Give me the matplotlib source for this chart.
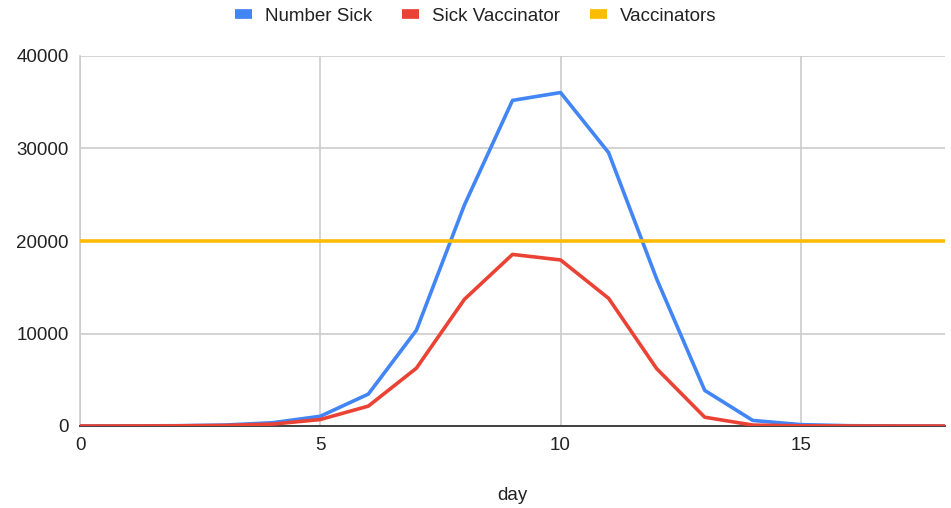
import matplotlib.pyplot as plt
from matplotlib.lines import Line2D

plt.rcParams['font.family'] = ['Liberation Sans', 'DejaVu Sans']

days = list(range(19))
number_sick = [0, 10, 30, 100, 350, 1050, 3450, 10350, 23900, 35200, 36050,
               29550, 15900, 3850, 600, 150, 30, 5, 0]
sick_vaccinator = [0, 5, 15, 60, 200, 700, 2150, 6250, 13700, 18550, 17950,
                   13800, 6200, 950, 100, 20, 5, 0, 0]
vaccinators = [20000] * 19

fig = plt.figure(figsize=(9.51, 5.08), dpi=100)
ax = fig.add_axes([80 / 951, 82 / 508, 865 / 951, 370 / 508])

ax.plot(days, number_sick, color='#4285F4', lw=2.6, label='Number Sick', zorder=3)
ax.plot(days, sick_vaccinator, color='#EA4335', lw=2.6, label='Sick Vaccinator', zorder=3)
ax.plot(days, vaccinators, color='#FBBC04', lw=2.6, label='Vaccinators', zorder=3)

ax.set_xlim(0, 18)
ax.set_ylim(0, 40000)
ax.set_xticks([0, 5, 10, 15])
ax.set_yticks([0, 10000, 20000, 30000, 40000])
ax.grid(True, color='#cccccc', lw=1.2)
ax.set_axisbelow(True)
for s in ['top', 'right']:
    ax.spines[s].set_visible(False)
ax.spines['left'].set_color('#cccccc')
ax.spines['left'].set_linewidth(1.2)
ax.spines['bottom'].set_color('#333333')
ax.spines['bottom'].set_linewidth(1.3)
ax.tick_params(length=0, labelsize=13.5, colors='#222222', pad=8)
ax.set_xlabel('day', fontsize=13.5, color='#222222', labelpad=24)

handles = [Line2D([], [], color=c, lw=7, solid_capstyle='butt')
           for c in ['#4285F4', '#EA4335', '#FBBC04']]
fig.legend(handles, ['Number Sick', 'Sick Vaccinator', 'Vaccinators'],
           loc='center', bbox_to_anchor=(0.5, 1 - 16 / 508), ncol=3, frameon=False,
           fontsize=13.5, handlelength=0.9, handletextpad=0.7, columnspacing=1.6,
           labelcolor='#222222')

fig.savefig('out.png', dpi=100)
